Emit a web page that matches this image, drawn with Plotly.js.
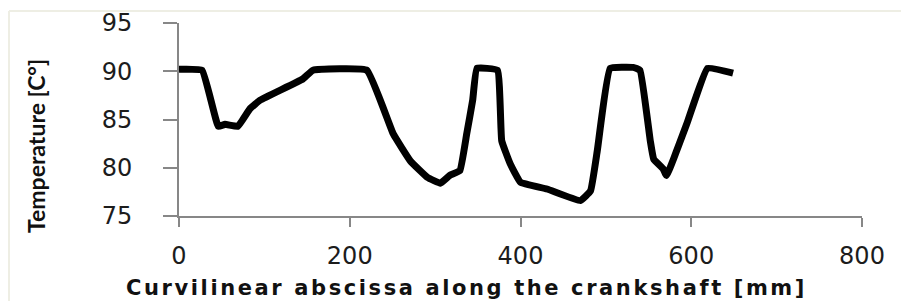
<!DOCTYPE html>
<html><head><meta charset="utf-8">
<script src="https://cdn.plot.ly/plotly-3.0.1.min.js"></script>
<style>html,body{margin:0;padding:0;background:#fff}#c{width:901px;height:301px}
text.annotation-text[data-unformatted^="Curvilinear"]{letter-spacing:2.6px}
</style>
</head><body><div id="c"></div>
<script>
const xPos = [0, 27, 46, 54, 69, 83, 95, 145, 157, 220, 251, 271, 291, 306, 317, 329, 337, 344, 349, 373, 378, 388, 400, 431, 470, 482, 490, 505, 532, 540, 552, 556, 567, 571, 595, 619, 649];
const temp = [90.2, 90.1, 84.3, 84.5, 84.3, 86.1, 87.0, 89.2, 90.1, 90.1, 83.5, 80.7, 79.0, 78.4, 79.2, 79.7, 83.5, 87.0, 90.3, 90.1, 82.8, 80.4, 78.5, 77.8, 76.6, 77.6, 81.8, 90.3, 90.4, 90.1, 82.8, 80.9, 79.9, 79.2, 84.6, 90.3, 89.8];
const xTicks = [0, 200, 400, 600, 800];
const yTicks = [75, 80, 85, 90, 95];
const xTitle = 'Curvilinear abscissa along the crankshaft [mm]';
const yTitle = 'Temperature [C°]';

const axisCommon = {
  showgrid: false, zeroline: false, showline: true, linecolor: '#878787', linewidth: 2,
  ticks: 'outside', tickcolor: '#878787', tickwidth: 2,
  tickfont: {family: 'DejaVu Sans', size: 24, color: '#1c1c1c'}
};
const layout = {
  width: 901, height: 301,
  margin: {l: 179, r: 39, t: 23, b: 85},
  paper_bgcolor: '#fff', plot_bgcolor: '#fff',
  showlegend: false,
  xaxis: Object.assign({}, axisCommon, {range: [0, 800], tickvals: xTicks, ticktext: xTicks.map(String), ticklen: 9, ticklabelstandoff: 8}),
  yaxis: Object.assign({}, axisCommon, {range: [75, 95], tickvals: yTicks, ticktext: yTicks.map(String), ticklen: 14, ticklabelstandoff: 26}),
  annotations: [
    {text: xTitle, xref: 'paper', yref: 'paper', x: (466-179)/683, y: (216-288)/193, xanchor: 'center', yanchor: 'middle', showarrow: false,
     font: {family: 'DejaVu Sans', size: 21, color: '#111', weight: 'bold'}},
    {text: yTitle, xref: 'paper', yref: 'paper', x: (36-179)/683, y: (216-146)/193, xanchor: 'center', yanchor: 'middle', textangle: -90, showarrow: false,
     font: {family: 'Lato', size: 23, color: '#111', weight: 'bold'}}
  ],
  shapes: [
    {type: 'line', xref: 'paper', yref: 'paper', x0: (9-179)/683, x1: (901-179)/683, y0: (216-11)/193, y1: (216-11)/193, line: {color: '#eeeee4', width: 2}},
    {type: 'line', xref: 'paper', yref: 'paper', x0: (9-179)/683, x1: (9-179)/683, y0: (216-11)/193, y1: (216-301)/193, line: {color: '#eeeee4', width: 2}}
  ]
};
const data = [{x: xPos, y: temp, type: 'scatter', mode: 'lines', line: {color: '#000', width: 7, shape: 'spline', smoothing: 0.3}, cliponaxis: false}];
Plotly.newPlot('c', data, layout, {staticPlot: true, displayModeBar: false});
</script></body></html>
